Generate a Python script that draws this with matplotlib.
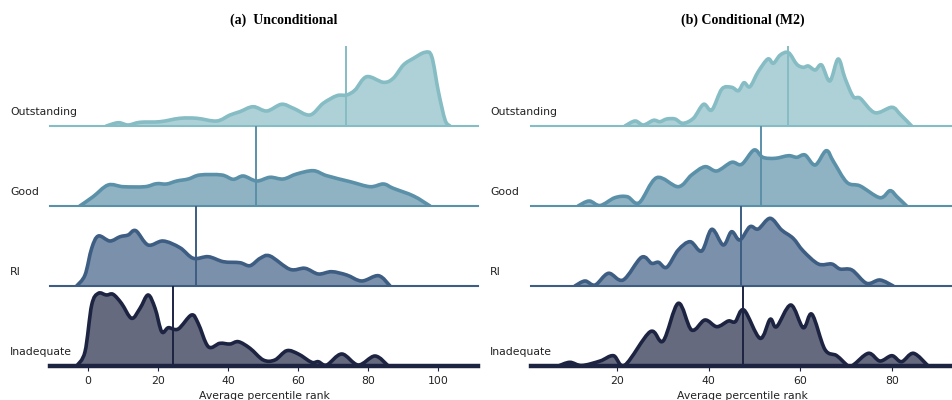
import numpy as np
import matplotlib.pyplot as plt
from matplotlib.path import Path
from matplotlib.patches import PathPatch

# rating groups, top row first
groups = ["Outstanding", "Good", "RI", "Inadequate"]
line_colors = ["#86bcc4", "#5b90a9", "#3d5d83", "#1d2442"]

# (a) unconditional: density curves (arbitrary units) over average percentile rank
a_out_x = [5.2, 8.6, 11.4, 14.8, 20.5, 26.2, 31.0, 36.7, 40.5, 43.3, 47.1, 51.0, 55.2, 58.6, 63.3,
           67.1, 71.0, 73.8, 76.2, 79.5, 84.3, 87.1, 90.0, 92.9, 96.2, 98.1, 100.0, 101.9, 103.3]
a_out_y = [0, 3.3, 1, 3.7, 4.3, 7.7, 7.7, 5, 11, 14.3, 19.3, 15, 21.7, 17.7, 11,
           22.7, 30.3, 31, 36, 49.3, 43.7, 47.7, 61, 67.7, 73.7, 69.3, 34.3, 6, 0]
a_good_x = [-2.4, 1.4, 5.7, 10.0, 16.2, 19.5, 22.4, 25.3, 28.6, 31.9, 38.1, 41.4, 44.3, 48.1, 51.9,
            55.7, 59.5, 64.3, 68.1, 74.8, 80.5, 84.3, 87.1, 92.9, 97.6]
a_good_y = [0, 9.3, 21, 19.3, 19.3, 22.3, 22, 25, 27, 31, 31, 26.7, 30, 25, 28.7,
            27, 32, 35.3, 30.3, 24.3, 19.3, 22, 17.7, 10, 0]
a_ri_x = [-3.3, -0.9, 1.0, 2.9, 6.2, 9.1, 11.4, 13.6, 17.1, 21.4, 26.2, 30.0, 34.3, 38.6, 43.3,
          46.2, 49.1, 51.9, 57.6, 61.9, 65.7, 69.5, 73.8, 78.1, 82.9, 86.2]
a_ri_y = [0, 11, 37.7, 50, 45, 49.3, 51, 55.3, 41, 45, 38.3, 27.7, 29.3, 24.3, 23.3,
          20.3, 27.7, 30, 16.7, 17.7, 12, 14.3, 11, 5, 10.3, 0]
a_inad_x = [-3.3, -0.9, 1.0, 2.9, 5.2, 7.1, 9.5, 12.4, 14.8, 17.1, 19.1, 21.0, 22.9, 25.7, 29.5,
            31.4, 34.3, 37.6, 40.5, 42.9, 46.2, 50.0, 53.3, 56.7, 60.0, 63.8, 65.7, 68.1, 72.4,
            77.1, 81.9, 85.7]
a_inad_y = [0, 14.3, 61, 72.7, 71, 71.7, 62.7, 47.7, 57.7, 71, 57.7, 34.3, 38.3, 37, 51,
            42.7, 19.3, 22.7, 22, 24.3, 17.7, 6, 6, 15.3, 12, 3.7, 4.3, 1, 12,
            1, 10, 0]
a_medians = [73.6, 47.9, 30.7, 24.3]

# (b) conditional (M2)
b_out_x = [21.8, 24.0, 25.8, 28.0, 29.4, 30.9, 32.7, 34.4, 36.7, 38.9, 40.7, 42.9, 45.0, 46.5, 47.7,
           49.0, 50.8, 52.9, 54.1, 55.6, 57.4, 59.2, 60.6, 61.7, 63.2, 64.6, 66.4, 68.2, 69.7,
           71.5, 73.0, 76.2, 79.9, 81.7, 84.2]
b_out_y = [0, 5, 1, 5.7, 4.3, 7, 7, 2.7, 7.7, 21.7, 16, 37, 38.7, 35.3, 43.3,
           39.3, 54.3, 67, 62.7, 71, 73.3, 61.7, 58.7, 60, 56, 61, 45, 67, 47.7,
           29.3, 27.7, 13.3, 18.7, 11.7, 0]
b_good_x = [11.6, 14.0, 16.4, 19.6, 22.3, 24.9, 28.7, 33.4, 36.3, 39.2, 41.8, 45.0, 47.2, 49.9, 51.8,
            54.5, 57.4, 59.2, 61.0, 63.2, 65.6, 67.2, 70.1, 73.0, 77.3, 79.5, 81.0, 83.1]
b_good_y = [0, 5, 0.5, 8.3, 9.3, 3.3, 28.3, 19.3, 31, 39.3, 35, 43.7, 41.7, 56, 48.7,
            47.7, 50.3, 48.7, 51, 41, 55.3, 44.3, 23.7, 20, 8.3, 15.3, 9.3, 0]
b_ri_x = [10.9, 13.1, 15.3, 18.2, 21.4, 25.4, 27.6, 29.1, 30.9, 33.4, 36.0, 38.5, 40.7, 43.2, 45.0,
          46.8, 49.0, 50.8, 53.4, 55.9, 58.4, 60.6, 63.9, 66.8, 68.6, 71.2, 74.4, 77.3, 80.2]
b_ri_y = [0, 5, 1, 12.7, 6, 28.7, 22.7, 23.7, 18.7, 36, 44.3, 35, 56.7, 41, 54.3,
          46, 59.3, 57, 67.7, 56, 47.7, 35, 22, 22, 17, 16, 2.7, 6, 0]
b_inad_x = [7.3, 9.8, 12.4, 16.4, 19.3, 21.8, 27.3, 30.1, 33.4, 36.3, 39.2, 41.8, 44.3, 45.8, 47.7,
            51.2, 53.4, 54.8, 57.9, 60.6, 62.5, 65.3, 67.9, 70.4, 71.5, 74.8, 77.3, 79.9, 82.0,
            84.6, 87.8]
b_inad_y = [0, 3.7, 0.5, 5, 10.3, 1, 34.3, 25, 62.7, 36, 46, 39.3, 45, 44.3, 56,
            27.7, 46.7, 39.3, 61, 38.3, 51.7, 16.7, 10.3, 0, 1, 12.7, 5, 10.3, 4.3,
            12.7, 0]
b_medians = [57.2, 51.4, 47.1, 47.6]

panels = [
    dict(title="(a)  Unconditional", left=50, right=478, xlim=(-10.9, 111.3),
         ticks=[0, 20, 40, 60, 80, 100], medians=a_medians,
         curves=[(a_out_x, a_out_y), (a_good_x, a_good_y), (a_ri_x, a_ri_y), (a_inad_x, a_inad_y)],
         title_x=284),
    dict(title="(b) Conditional (M2)", left=531, right=953, xlim=(1.35, 93.2),
         ticks=[20, 40, 60, 80], medians=b_medians,
         curves=[(b_out_x, b_out_y), (b_good_x, b_good_y), (b_ri_x, b_ri_y), (b_inad_x, b_inad_y)],
         title_x=743),
]


def smooth_path(x, y, closed=False):
    # Catmull-Rom curve through the points, drawn as cubic Bezier segments
    pts = np.column_stack([x, y]).astype(float)
    ext = np.vstack([pts[0], pts, pts[-1]])
    verts = [pts[0]]
    codes = [Path.MOVETO]
    for i in range(len(pts) - 1):
        p0, p1, p2, p3 = ext[i], ext[i + 1], ext[i + 2], ext[i + 3]
        verts += [p1 + (p2 - p0) / 6, p2 - (p3 - p1) / 6, p2]
        codes += [Path.CURVE4] * 3
    if closed:
        verts += [(x[-1], 0), (x[0], 0), (x[0], 0)]
        codes += [Path.LINETO, Path.LINETO, Path.CLOSEPOLY]
    return Path(verts, codes)


W, H = 953, 400
fig = plt.figure(figsize=(W / 100, H / 100), dpi=100)

for p in panels:
    for i, g in enumerate(groups):
        base = 126 + 80 * i
        ax = fig.add_axes([p["left"] / W, 1 - base / H, (p["right"] - p["left"]) / W, 80 / H])
        ax.patch.set_alpha(0)
        c = line_colors[i]
        x, y = p["curves"][i]
        ax.add_patch(PathPatch(smooth_path(x, y, closed=True), facecolor=c, alpha=0.68, lw=0))
        ax.add_patch(PathPatch(smooth_path(x, y), facecolor="none", edgecolor=c, lw=2.6,
                               joinstyle="round", capstyle="round"))
        ax.axvline(p["medians"][i], color=c, lw=1.4)
        ax.set_xlim(*p["xlim"])
        ax.set_ylim(0, 80)
        ax.set_yticks([])
        for s in ["top", "left", "right"]:
            ax.spines[s].set_visible(False)
        ax.spines["bottom"].set_color(c)
        ax.spines["bottom"].set_linewidth(3.2 if i == 3 else 1.5)
        ax.spines["bottom"].set_zorder(3)
        ax.text((10 if p["left"] < 100 else 490) / W, 1 - (base - 14) / H, g,
                transform=fig.transFigure, ha="left", va="center", fontsize=7.8, color="#222222")
        if i < 3:
            ax.set_xticks([])
        else:
            ax.set_xticks(p["ticks"])
            ax.tick_params(axis="x", labelsize=7.8, length=3.5, color=c, labelcolor="#222222", pad=4)
            ax.set_xlabel("Average percentile rank", fontsize=7.8, color="#222222", labelpad=3)
    fig.text(p["title_x"] / W, 1 - 20 / H, p["title"], ha="center", va="center",
             fontsize=10, fontweight="bold", family="Liberation Serif")

fig.savefig("out.png", dpi=100)
